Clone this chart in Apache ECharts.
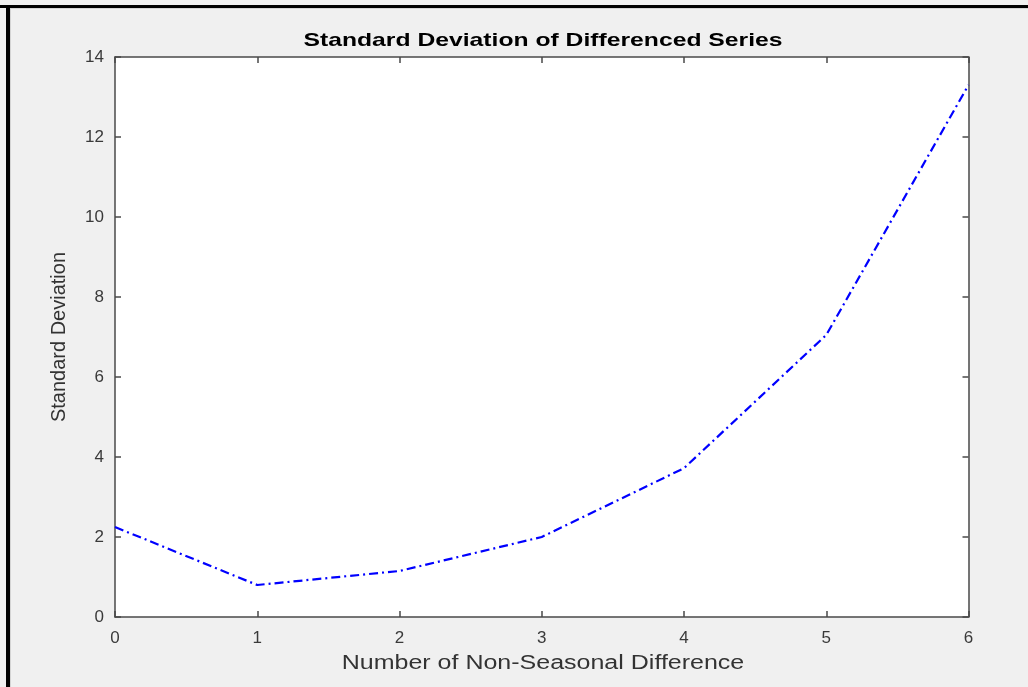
<!DOCTYPE html>
<html>
<head>
<meta charset="utf-8">
<script src="https://cdn.jsdelivr.net/npm/echarts@6/dist/echarts.min.js"></script>
<style>
html,body{margin:0;padding:0;background:#f0f0f0;}
#chart{width:1028px;height:687px;}
</style>
</head>
<body>
<div id="chart"></div>
<script>
const differenceOrder = [0, 1, 2, 3, 4, 5, 6];
const stdDeviation = [2.25, 0.8, 1.15, 2.0, 3.72, 7.05, 13.3];
const xTicks = [0, 1, 2, 3, 4, 5, 6];
const yTicks = [0, 2, 4, 6, 8, 10, 12, 14];
const titleText = 'Standard Deviation of Differenced Series';
const xName = 'Number of Non-Seasonal Difference';
const yName = 'Standard Deviation';

const chart = echarts.init(document.getElementById('chart'), null, {renderer: 'canvas'});
const axisColor = '#4a4a4a';
const labelColor = '#3a3a3a';
const font = 'Liberation Sans, Arial, Helvetica, sans-serif';

const mirror = {
  axisLine: {show: true, onZero: false, lineStyle: {color: axisColor, width: 1.5}},
  axisTick: {show: true, inside: true, length: 6, lineStyle: {color: axisColor, width: 1.5}},
  axisLabel: {show: false},
  splitLine: {show: false}
};

chart.setOption({
  backgroundColor: '#f0f0f0',
  animation: false,
  grid: {left: 115, right: 59.5, top: 57, bottom: 70, show: true, backgroundColor: '#fff', borderWidth: 0},
  graphic: [
    {type: 'rect', shape: {x: 0, y: 5, width: 1028, height: 3}, style: {fill: '#000'}, silent: true},
    {type: 'rect', shape: {x: 6, y: 5, width: 4, height: 682}, style: {fill: '#000'}, silent: true},
    {type: 'rect', shape: {x: 10, y: 8, width: 1, height: 679}, style: {fill: '#d4d4d4'}, silent: true},
    {type: 'rect', shape: {x: 10, y: 8, width: 1018, height: 1}, style: {fill: '#d4d4d4'}, silent: true},
    {type: 'text', x: 543, y: 41, scaleX: 1.3, silent: true,
      style: {text: titleText, font: 'bold 19px ' + font, fill: '#000', textAlign: 'center', textVerticalAlign: 'middle'}},
    {type: 'text', x: 543, y: 663, scaleX: 1.25, silent: true,
      style: {text: xName, font: '20px ' + font, fill: '#333', textAlign: 'center', textVerticalAlign: 'middle'}}
  ],
  xAxis: [{
    type: 'value', min: 0, max: 6, interval: 1,
    axisLine: {show: true, onZero: false, lineStyle: {color: axisColor, width: 1.5}},
    axisTick: {show: true, inside: true, length: 6, lineStyle: {color: axisColor, width: 1.5}},
    axisLabel: {fontFamily: font, fontSize: 17, color: labelColor, margin: 13, customValues: xTicks},
    splitLine: {show: false}
  }, Object.assign({type: 'value', min: 0, max: 6, interval: 1, position: 'top'}, mirror)],
  yAxis: [{
    type: 'value', min: 0, max: 14, interval: 2,
    name: yName, nameLocation: 'middle', nameGap: 46, nameRotate: 90,
    nameTextStyle: {fontFamily: font, fontSize: 20, color: '#333'},
    axisLine: {show: true, onZero: false, lineStyle: {color: axisColor, width: 1.5}},
    axisTick: {show: true, inside: true, length: 6, lineStyle: {color: axisColor, width: 1.5}},
    axisLabel: {fontFamily: font, fontSize: 17, color: labelColor, margin: 11, customValues: yTicks},
    splitLine: {show: false}
  }, Object.assign({type: 'value', min: 0, max: 14, interval: 2, position: 'right'}, mirror)],
  series: [{
    type: 'line',
    data: differenceOrder.map((x, i) => [x, stdDeviation[i]]),
    showSymbol: false,
    symbol: 'none',
    lineStyle: {color: '#0000ff', width: 2.2, type: [9, 4, 2, 4]},
    z: 3
  }]
});
</script>
</body>
</html>
